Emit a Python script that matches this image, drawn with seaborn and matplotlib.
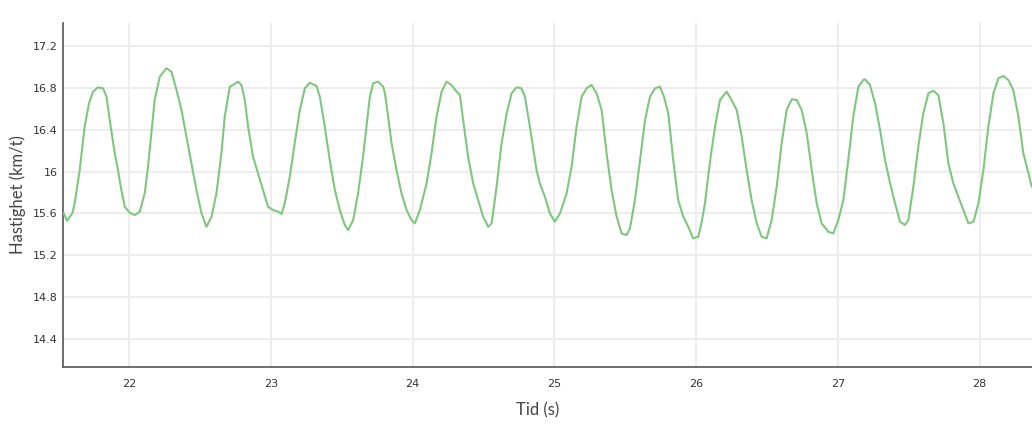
import matplotlib
matplotlib.use("Agg")
import matplotlib.pyplot as plt
import seaborn as sns
import pandas as pd

# Time (s)
tid = [
    21.539, 21.562, 21.601, 21.617, 21.652, 21.687, 21.718, 21.746, 21.781, 21.817,
    21.841, 21.864, 21.899, 21.922, 21.946, 21.970, 22.005, 22.040, 22.076, 22.111,
    22.134, 22.158, 22.181, 22.217, 22.264, 22.299, 22.335, 22.370, 22.405, 22.440,
    22.476, 22.511, 22.546, 22.582, 22.617, 22.652, 22.675, 22.711, 22.734, 22.769,
    22.793, 22.817, 22.840, 22.875, 22.910, 22.946, 22.981, 23.016, 23.052, 23.076,
    23.099, 23.134, 23.169, 23.205, 23.240, 23.275, 23.323, 23.346, 23.381, 23.416,
    23.452, 23.487, 23.522, 23.546, 23.581, 23.616, 23.651, 23.675, 23.699, 23.722,
    23.757, 23.793, 23.805, 23.828, 23.852, 23.887, 23.922, 23.958, 23.993, 24.016,
    24.052, 24.099, 24.134, 24.169, 24.205, 24.240, 24.275, 24.311, 24.334, 24.357,
    24.392, 24.428, 24.463, 24.498, 24.534, 24.558, 24.593, 24.628, 24.664, 24.699,
    24.734, 24.769, 24.793, 24.828, 24.875, 24.898, 24.934, 24.969, 25.004, 25.040,
    25.087, 25.122, 25.157, 25.193, 25.228, 25.263, 25.298, 25.334, 25.369, 25.404,
    25.440, 25.475, 25.510, 25.534, 25.569, 25.605, 25.640, 25.675, 25.711, 25.746,
    25.774, 25.804, 25.839, 25.874, 25.910, 25.945, 25.980, 26.016, 26.040, 26.063,
    26.098, 26.134, 26.169, 26.216, 26.251, 26.287, 26.322, 26.357, 26.392, 26.428,
    26.463, 26.498, 26.533, 26.569, 26.604, 26.639, 26.675, 26.710, 26.745, 26.781,
    26.816, 26.851, 26.886, 26.933, 26.968, 27.004, 27.039, 27.074, 27.109, 27.145,
    27.180, 27.192, 27.227, 27.263, 27.298, 27.333, 27.369, 27.404, 27.439, 27.474,
    27.498, 27.533, 27.568, 27.603, 27.639, 27.674, 27.709, 27.745, 27.780, 27.815,
    27.851, 27.886, 27.921, 27.957, 27.992, 28.027, 28.062, 28.098, 28.133, 28.168,
    28.203, 28.238, 28.274, 28.309, 28.345, 28.368,
]

# Speed (km/t)
hastighet = [
    15.603, 15.530, 15.603, 15.699, 16.014, 16.428, 16.655, 16.763, 16.805, 16.795,
    16.715, 16.492, 16.177, 16.014, 15.823, 15.663, 15.606, 15.584, 15.616, 15.794,
    16.046, 16.368, 16.684, 16.906, 16.987, 16.954, 16.779, 16.588, 16.333, 16.081,
    15.823, 15.603, 15.472, 15.568, 15.794, 16.177, 16.524, 16.811, 16.827, 16.859,
    16.827, 16.684, 16.428, 16.141, 15.983, 15.823, 15.663, 15.632, 15.616, 15.594,
    15.699, 15.950, 16.272, 16.588, 16.795, 16.849, 16.817, 16.715, 16.428, 16.110,
    15.823, 15.632, 15.489, 15.441, 15.536, 15.794, 16.141, 16.428, 16.715, 16.843,
    16.859, 16.811, 16.748, 16.524, 16.270, 16.014, 15.792, 15.632, 15.536, 15.505,
    15.632, 15.887, 16.174, 16.524, 16.763, 16.859, 16.827, 16.763, 16.731, 16.492,
    16.141, 15.887, 15.728, 15.568, 15.472, 15.505, 15.855, 16.270, 16.556, 16.748,
    16.805, 16.795, 16.715, 16.428, 16.014, 15.887, 15.759, 15.600, 15.520, 15.600,
    15.792, 16.046, 16.428, 16.715, 16.795, 16.827, 16.748, 16.588, 16.174, 15.823,
    15.568, 15.409, 15.393, 15.457, 15.728, 16.110, 16.492, 16.715, 16.795, 16.811,
    16.715, 16.556, 16.110, 15.728, 15.568, 15.472, 15.361, 15.377, 15.520, 15.699,
    16.091, 16.428, 16.684, 16.763, 16.684, 16.588, 16.333, 16.014, 15.728, 15.505,
    15.377, 15.361, 15.536, 15.855, 16.270, 16.588, 16.690, 16.684, 16.588, 16.365,
    16.014, 15.696, 15.505, 15.424, 15.409, 15.536, 15.728, 16.110, 16.524, 16.811,
    16.875, 16.881, 16.827, 16.652, 16.397, 16.110, 15.887, 15.696, 15.520, 15.489,
    15.536, 15.855, 16.237, 16.556, 16.748, 16.772, 16.731, 16.461, 16.078, 15.887,
    15.759, 15.632, 15.505, 15.520, 15.696, 16.014, 16.428, 16.748, 16.891, 16.913,
    16.875, 16.779, 16.524, 16.174, 15.983, 15.855,
]

y_ticks = [14.4, 14.8, 15.2, 15.6, 16.0, 16.4, 16.8, 17.2]
y_tick_labels = ["14.4", "14.8", "15.2", "15.6", "16", "16.4", "16.8", "17.2"]
x_ticks = [22, 23, 24, 25, 26, 27, 28]
x_tick_labels = ["22", "23", "24", "25", "26", "27", "28"]

df = pd.DataFrame({"Tid": tid, "Hastighet": hastighet})

sns.set_theme(style="white")
plt.rcParams["font.family"] = ["Lato", "DejaVu Sans"]

fig = plt.figure(figsize=(10.32, 4.25), dpi=100)
ax = fig.add_axes([0.061, 0.137, 0.939, 0.809])

sns.lineplot(data=df, x="Tid", y="Hastighet", ax=ax, color="#7fc67e",
             linewidth=1.5, zorder=3)
ax.lines[0].set_solid_joinstyle("round")

ax.set_xlim(21.534, 28.37)
ax.set_ylim(14.134, 17.42)
ax.set_xticks(x_ticks)
ax.set_xticklabels(x_tick_labels)
ax.set_yticks(y_ticks)
ax.set_yticklabels(y_tick_labels)

ax.grid(True, color="#ededed", linewidth=1.4, zorder=0)
ax.set_axisbelow(True)

for side in ["top", "right"]:
    ax.spines[side].set_visible(False)
for side in ["left", "bottom"]:
    ax.spines[side].set_color("#555555")
    ax.spines[side].set_linewidth(1.2)

ax.tick_params(axis="both", length=0, labelsize=8, labelcolor="#333333",
               labelfontfamily="DejaVu Sans")
ax.tick_params(axis="x", pad=9)
ax.tick_params(axis="y", pad=4)

ax.set_xlabel("Tid (s)", fontsize=12, color="#444444")
ax.set_ylabel("Hastighet (km/t)", fontsize=12, color="#444444")
ax.yaxis.set_label_coords(-0.047, 0.5)
ax.yaxis.label.set_va("center")
ax.xaxis.label.set_va("center")
ax.xaxis.set_label_coords(0.49, -0.126)

fig.savefig("out.png", dpi=100)
